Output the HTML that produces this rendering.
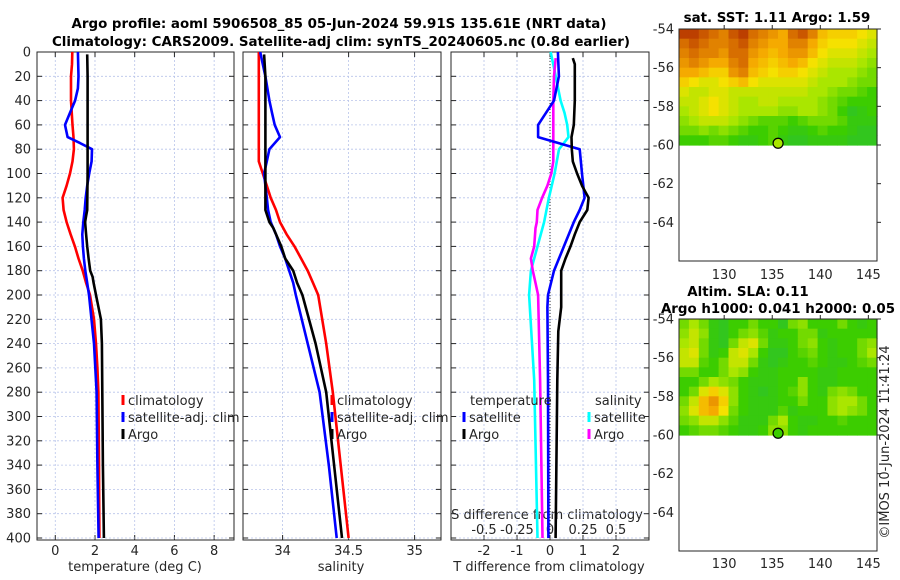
<!DOCTYPE html>
<html><head><meta charset="utf-8"><style>
html,body{margin:0;padding:0;background:#fff;}
svg{display:block;font-family:"DejaVu Sans","Liberation Sans",sans-serif;}
.tk{font-size:13px;fill:#262626;}
.tt{font-size:13.4px;font-weight:bold;fill:#000;}
</style></head><body>
<svg id="fig" width="900" height="580" viewBox="0 0 900 580" xmlns="http://www.w3.org/2000/svg">
<g id="static">
<text class="tt" x="339" y="28" text-anchor="middle">Argo profile: aoml 5906508_85 05-Jun-2024 59.91S 135.61E (NRT data)</text>
<text class="tt" x="341" y="46" text-anchor="middle">Climatology: CARS2009. Satellite-adj clim: synTS_20240605.nc (0.8d earlier)</text>
<text class="tk" x="135" y="571" text-anchor="middle">temperature (deg C)</text>
<text class="tk" x="341" y="571" text-anchor="middle">salinity</text>
<text class="tk" x="549" y="571" text-anchor="middle">T difference from climatology</text>
<text class="tk" x="547" y="519" text-anchor="middle">S difference from climatology</text>
<text class="tt" x="777" y="22" text-anchor="middle">sat. SST: 1.11 Argo: 1.59</text>
<text class="tt" x="748" y="296" text-anchor="middle">Altim. SLA: 0.11</text>
<text class="tt" x="778" y="313" text-anchor="middle">Argo h1000: 0.041 h2000: 0.05</text>
<text class="tk" transform="translate(889,442) rotate(-90)" text-anchor="middle">©IMOS 10-Jun-2024 11:41:24</text>
</g>
</svg>
<script>
// ---- data ----
const depthTicks=[0,20,40,60,80,100,120,140,160,180,200,220,240,260,280,300,320,340,360,380,400];
const tTicks=[0,2,4,6,8];
const sTicks=[34,34.5,35];
const sTickLabels=["34","34.5","35"];
const dTicks=[-2,-1,0,1,2];
const sdTicks=[-0.5,-0.25,0,0.25,0.5];
const sdTickLabels=["-0.5","-0.25","0","0.25","0.5"];

const climTDepth=[0,10,20,40,60,70,80,90,100,110,120,130,140,150,160,170,180,190,200,220,240,260,280,340,400];
const climT=[0.86,0.84,0.79,0.79,0.87,0.92,0.94,0.87,0.74,0.57,0.37,0.42,0.57,0.77,0.99,1.17,1.38,1.55,1.75,1.95,2.05,2.12,2.17,2.2,2.22];
const satTDepth=[0,20,30,40,50,60,70,75,80,90,100,110,120,130,140,150,160,170,180,190,200,240,280,340,400];
const satT=[1.14,1.17,1.14,1.0,0.74,0.49,0.62,1.25,1.85,1.83,1.71,1.61,1.53,1.48,1.41,1.36,1.39,1.44,1.51,1.61,1.7,1.95,2.08,2.12,2.18];
const argoTDepth=[2,20,60,100,130,135,140,150,160,170,180,185,190,200,220,240,280,340,400];
const argoT=[1.61,1.63,1.63,1.63,1.61,1.55,1.5,1.55,1.61,1.68,1.76,1.88,1.93,2.05,2.3,2.35,2.37,2.4,2.45];

const climSDepth=[0,20,40,60,90,100,110,120,130,140,150,160,170,180,190,200,240,280,340,400];
const climS=[33.82,33.82,33.82,33.82,33.82,33.85,33.88,33.91,33.95,33.98,34.03,34.09,34.14,34.19,34.23,34.27,34.33,34.38,34.44,34.5];
const satSDepth=[0,10,20,40,50,60,70,80,90,100,110,120,130,140,150,160,170,180,190,200,240,280,340,400];
const satS=[33.83,33.85,33.87,33.9,33.92,33.94,33.98,33.9,33.88,33.86,33.87,33.88,33.89,33.91,33.95,33.98,34.02,34.05,34.08,34.1,34.19,34.28,34.35,34.41];
const argoSDepth=[2,20,60,100,130,140,145,150,160,170,175,180,190,200,240,280,340,400];
const argoS=[33.86,33.87,33.87,33.87,33.87,33.9,33.93,33.95,33.99,34.02,34.05,34.08,34.11,34.15,34.25,34.33,34.39,34.45];

const satDTDepth=[0,20,40,60,70,80,100,120,130,140,160,180,200,210,270,400];
const satDT=[0.24,0.27,0.12,-0.36,-0.36,0.9,0.97,1.05,0.9,0.72,0.42,0.12,-0.06,-0.08,-0.06,-0.05];
const argoDTDepth=[5,10,20,40,60,70,80,90,100,110,120,130,140,150,160,170,180,200,210,230,270,400];
const argoDT=[0.69,0.75,0.75,0.75,0.72,0.65,0.66,0.69,0.82,0.97,1.17,1.13,0.9,0.75,0.62,0.47,0.34,0.34,0.34,0.25,0.22,0.17];
const satDSDepth=[0,20,40,50,60,70,75,80,100,120,140,160,180,200,270,400];
const satDS=[0.005,0.043,0.08,0.11,0.13,0.14,0.105,0.068,0.035,-0.008,-0.045,-0.095,-0.145,-0.158,-0.12,-0.095];
const argoDSDepth=[5,20,40,90,100,110,120,130,140,145,160,170,180,190,200,270,400];
const argoDS=[0.043,0.03,0.025,0.025,0.01,-0.02,-0.06,-0.095,-0.1,-0.11,-0.12,-0.145,-0.13,-0.11,-0.09,-0.075,-0.057];

const latTicks=[-54,-56,-58,-60,-62,-64];
const lonTicks=[130,135,140,145];
const argoLon=135.61, argoLat=-59.91;
const sstGrid=[
[0.95,0.95,0.9,0.85,0.8,0.9,0.95,0.85,0.8,0.75,0.7,0.85,0.9,0.8,0.65,0.6,0.6,0.6,0.55,0.5],
[0.85,0.9,0.85,0.8,0.8,0.85,0.9,0.8,0.75,0.7,0.7,0.8,0.8,0.7,0.6,0.55,0.55,0.55,0.5,0.45],
[0.8,0.85,0.8,0.8,0.75,0.85,0.85,0.75,0.7,0.65,0.7,0.75,0.75,0.65,0.55,0.5,0.5,0.5,0.45,0.4],
[0.75,0.8,0.75,0.7,0.7,0.8,0.85,0.7,0.65,0.6,0.65,0.7,0.65,0.55,0.5,0.45,0.45,0.45,0.4,0.35],
[0.7,0.7,0.65,0.6,0.6,0.75,0.8,0.65,0.6,0.55,0.6,0.6,0.55,0.5,0.45,0.4,0.4,0.4,0.35,0.3],
[0.6,0.55,0.5,0.5,0.55,0.6,0.65,0.55,0.5,0.5,0.5,0.5,0.5,0.45,0.4,0.4,0.4,0.35,0.3,0.3],
[0.5,0.45,0.45,0.5,0.5,0.45,0.45,0.45,0.45,0.45,0.45,0.45,0.45,0.4,0.4,0.35,0.3,0.3,0.25,0.2],
[0.45,0.45,0.5,0.55,0.5,0.45,0.4,0.4,0.45,0.45,0.4,0.4,0.4,0.4,0.35,0.3,0.25,0.2,0.2,0.2],
[0.4,0.45,0.5,0.55,0.5,0.45,0.4,0.4,0.4,0.4,0.35,0.35,0.4,0.4,0.35,0.3,0.2,0.1,0.15,0.2],
[0.35,0.4,0.45,0.45,0.45,0.4,0.35,0.3,0.25,0.25,0.25,0.2,0.25,0.3,0.3,0.3,0.25,0.15,0.15,0.15],
[0.3,0.3,0.35,0.3,0.35,0.3,0.25,0.2,0.2,0.25,0.2,0.15,0.15,0.2,0.25,0.2,0.2,0.15,0.1,0.1],
[0.2,0.2,0.2,0.25,0.25,0.2,0.15,0.15,0.2,0.25,0.15,0.1,0.1,0.15,0.15,0.15,0.15,0.1,0.1,0.1]];
const slaGrid=[
[0.3,0.4,0.3,0.15,0.1,0.2,0.2,0.3,0.2,0.2,0.1,0.3,0.35,0.2,0.2,0.2,0.3,0.2,0.15,0.2],
[0.35,0.45,0.35,0.15,0.1,0.2,0.3,0.35,0.25,0.15,0.2,0.2,0.3,0.3,0.15,0.2,0.2,0.2,0.2,0.2],
[0.4,0.45,0.3,0.15,0.1,0.3,0.45,0.5,0.3,0.15,0.15,0.2,0.3,0.35,0.2,0.15,0.2,0.2,0.3,0.35],
[0.45,0.5,0.3,0.15,0.2,0.45,0.5,0.4,0.2,0.1,0.1,0.2,0.25,0.3,0.2,0.15,0.2,0.2,0.3,0.4],
[0.45,0.45,0.25,0.2,0.3,0.45,0.45,0.3,0.15,0.1,0.15,0.2,0.2,0.25,0.2,0.15,0.15,0.2,0.25,0.3],
[0.3,0.3,0.2,0.2,0.3,0.4,0.35,0.2,0.15,0.15,0.2,0.2,0.2,0.2,0.15,0.15,0.2,0.2,0.2,0.2],
[0.2,0.2,0.3,0.4,0.35,0.3,0.2,0.15,0.15,0.15,0.2,0.2,0.35,0.2,0.15,0.15,0.2,0.2,0.2,0.2],
[0.2,0.3,0.5,0.6,0.5,0.35,0.2,0.15,0.1,0.15,0.2,0.25,0.35,0.2,0.15,0.3,0.35,0.3,0.2,0.2],
[0.3,0.45,0.65,0.75,0.6,0.35,0.2,0.15,0.15,0.15,0.2,0.2,0.3,0.2,0.2,0.35,0.4,0.4,0.3,0.2],
[0.35,0.5,0.65,0.7,0.55,0.3,0.2,0.15,0.15,0.15,0.25,0.15,0.2,0.2,0.2,0.35,0.4,0.35,0.3,0.2],
[0.3,0.35,0.45,0.45,0.35,0.25,0.15,0.15,0.15,0.3,0.4,0.2,0.15,0.15,0.2,0.2,0.25,0.2,0.2,0.2],
[0.2,0.25,0.3,0.3,0.25,0.2,0.15,0.15,0.2,0.35,0.35,0.2,0.15,0.2,0.2,0.2,0.2,0.2,0.2,0.2]];

// ---- drawing ----
const NS="http://www.w3.org/2000/svg";
const svg=document.getElementById('fig');
function mk(tag,attrs,parent){const e=document.createElementNS(NS,tag);for(const k in attrs)e.setAttribute(k,attrs[k]);(parent||svg).appendChild(e);return e;}
const PT=52, PB=538, PBOX=540;
function yD(d){return PT+(d/400)*(PB-PT);}
const panels=[
 {x0:37,x1:234,vmin:-0.92,vmax:9.0,name:'temperature'},
 {x0:243,x1:441,vmin:33.7,vmax:35.2,name:'salinity'},
 {x0:451,x1:649,vmin:-3,vmax:3,name:'difference'}];
function xf(p,v){return p.x0+(v-p.vmin)/(p.vmax-p.vmin)*(p.x1-p.x0);}

function drawPanel(p,ticks,labels,idx){
  const g=mk('g',{});
  
  
  ticks.forEach((t,i)=>{
    const x=xf(p,t);
    const gl=mk('line',{x1:x,x2:x,y1:PT,y2:PBOX,stroke:'#b8c4ea','stroke-width':0.8,'stroke-dasharray':'2,2'},g);
    
    
    mk('line',{x1:x,x2:x,y1:PBOX,y2:PBOX-5,stroke:'#262626'},g);
    mk('line',{x1:x,x2:x,y1:PT,y2:PT+5,stroke:'#262626'},g);
    const tx=mk('text',{x:x,y:555,'text-anchor':'middle',class:'tk'},g);
    tx.textContent=labels[i];
    
    
  });
  depthTicks.forEach(d=>{
    const y=yD(d);
    const gl=mk('line',{x1:p.x0,x2:p.x1,y1:y,y2:y,stroke:'#b8c4ea','stroke-width':0.8,'stroke-dasharray':'2,2'},g);
    
    
    mk('line',{x1:p.x0,x2:p.x0+5,y1:y,y2:y,stroke:'#262626'},g);
    mk('line',{x1:p.x1,x2:p.x1-5,y1:y,y2:y,stroke:'#262626'},g);
    if(idx===0){
      const tx=mk('text',{x:31,y:y+4.5,'text-anchor':'end',class:'tk'},g);
      tx.textContent=String(d);
      
      
    }
  });
  const fr=mk('rect',{x:p.x0,y:PT,width:p.x1-p.x0,height:PBOX-PT,fill:'none',stroke:'#262626','stroke-width':1},g);
  
  
  return g;
}
function line(p,vals,depths,color,name,scale){
  const pts=vals.map((v,i)=>xf(p,v*(scale||1)).toFixed(1)+','+yD(depths[i]).toFixed(1)).join(' ');
  const l=mk('polyline',{points:pts,fill:'none',stroke:color,'stroke-width':2.6,'stroke-linejoin':'round'});
  
  
}
drawPanel(panels[0],tTicks,tTicks.map(String),0);
drawPanel(panels[1],sTicks,sTickLabels,1);
drawPanel(panels[2],dTicks,dTicks.map(String),2);
{const x=xf(panels[2],0);const z=mk('line',{x1:x,x2:x,y1:PT,y2:PBOX,stroke:'#333','stroke-width':1,'stroke-dasharray':'1,2'});

}
sdTicks.forEach((t,i)=>{const tx=mk('text',{x:xf(panels[2],t*4),y:534,'text-anchor':'middle',class:'tk'});tx.textContent=sdTickLabels[i];

});

line(panels[0],climT,climTDepth,'#ff0000','temperature-climatology-line');
line(panels[0],satT,satTDepth,'#0000ff','temperature-satellite-line');
line(panels[0],argoT,argoTDepth,'#000000','temperature-argo-line');
line(panels[1],climS,climSDepth,'#ff0000','salinity-climatology-line');
line(panels[1],satS,satSDepth,'#0000ff','salinity-satellite-line');
line(panels[1],argoS,argoSDepth,'#000000','salinity-argo-line');
line(panels[2],satDS,satDSDepth,'#00ffff','s-diff-satellite-line',4);
line(panels[2],argoDS,argoDSDepth,'#ff00ff','s-diff-argo-line',4);
line(panels[2],satDT,satDTDepth,'#0000ff','t-diff-satellite-line');
line(panels[2],argoDT,argoDTDepth,'#000000','t-diff-argo-line');

function legend(x,y,color,label,name){
  const r=mk('rect',{x:x-1.5,y:y-10,width:3,height:10,fill:color});
  
  
  const t=mk('text',{x:x+5,y:y,class:'tk'});t.textContent=label;
  
  
}
legend(123,405,'#ff0000','climatology','legend-t-climatology');
legend(123,422,'#0000ff','satellite-adj. clim','legend-t-satellite');
legend(123,439,'#000000','Argo','legend-t-argo');
legend(332,405,'#ff0000','climatology','legend-s-climatology');
legend(332,422,'#0000ff','satellite-adj. clim','legend-s-satellite');
legend(332,439,'#000000','Argo','legend-s-argo');
{const t=mk('text',{x:470,y:405,class:'tk'});t.textContent='temperature';


const t2=mk('text',{x:595,y:405,class:'tk'});t2.textContent='salinity';

}
legend(464,422,'#0000ff','satellite','legend-dt-satellite');
legend(464,439,'#000000','Argo','legend-dt-argo');
legend(589,422,'#00ffff','satellite','legend-ds-satellite');
legend(589,439,'#ff00ff','Argo','legend-ds-argo');

const cstops=[[0,[40,190,60]],[0.2,[60,205,0]],[0.4,[170,230,0]],[0.55,[245,225,0]],[0.7,[245,170,0]],[0.85,[215,110,0]],[1,[175,40,0]]];
function cmap(v){for(let i=1;i<cstops.length;i++){if(v<=cstops[i][0]){const a=cstops[i-1],b=cstops[i];const f=(v-a[0])/(b[0]-a[0]);return 'rgb('+a[1].map((c,k)=>Math.round(c+(b[1][k]-c)*f)).join(',')+')';}}return 'rgb(175,40,0)';}
const LON0=125.3,LON1=145.9,LAT0=-54,LAT1=-66;
function drawMap(top,bottom,grid,name,labelY){
  const X0=679,X1=877;
  const lx=lon=>X0+(lon-LON0)/(LON1-LON0)*(X1-X0);
  const ly=lat=>top+(lat-LAT0)/(LAT1-LAT0)*(bottom-top);
  const g=mk('g',{});
  
  
  const rows=grid.length, cols=grid[0].length;
  const lonStep=(LON1-LON0)/cols, latStep=6/rows;
  grid.forEach((row,r)=>row.forEach((v,c)=>{
    const xa=lx(LON0+c*lonStep), xb=lx(LON0+(c+1)*lonStep);
    const ya=ly(LAT0-r*latStep), yb=ly(LAT0-(r+1)*latStep);
    const cell=mk('rect',{x:xa.toFixed(2),y:ya.toFixed(2),width:(xb-xa+0.6).toFixed(2),height:(yb-ya+0.6).toFixed(2),fill:cmap(v)},g);
    
    
  }));
  latTicks.forEach(lat=>{const y=ly(lat);
    mk('line',{x1:X1,x2:X1+4,y1:y,y2:y,stroke:'#262626'},g);
    const t=mk('text',{x:674,y:y+4.5,'text-anchor':'end',class:'tk'},g);t.textContent=String(lat);
    
    });
  lonTicks.forEach(lon=>{const x=lx(lon);
    mk('line',{x1:x,x2:x,y1:top,y2:top-4,stroke:'#262626'},g);
    const t=mk('text',{x:x,y:labelY,'text-anchor':'middle',class:'tk'},g);t.textContent=String(lon);
    
    });
  const fr=mk('rect',{x:X0,y:top,width:X1-X0,height:bottom-top,fill:'none',stroke:'#262626'},g);
  
  
  const c=mk('circle',{cx:lx(argoLon),cy:ly(argoLat),r:5,fill:cmap(name==='sst-map'?0.4:0.2),stroke:'#000','stroke-width':1.2},g);
  
  
}
drawMap(29,261,sstGrid,'sst-map',279);
drawMap(319,551,slaGrid,'sla-map',568);
</script>
</body></html>
